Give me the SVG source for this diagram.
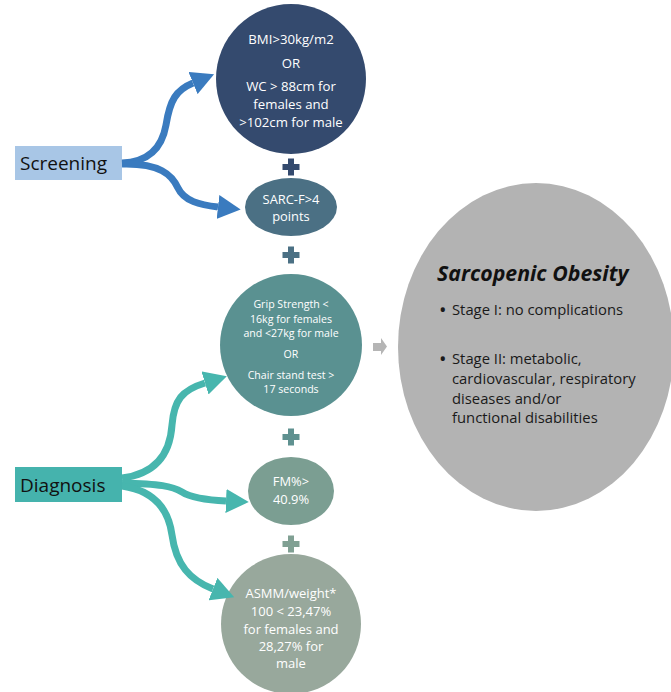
<svg xmlns="http://www.w3.org/2000/svg" width="671" height="692" viewBox="0 0 671 692">
<style>
text{font-family:"Open Sans","Noto Sans","Liberation Sans",sans-serif;}
.w{fill:#ffffff;text-anchor:middle;}
.lbl{fill:#111111;font-size:19px;}
.body{fill:#1a1a1a;font-size:14.8px;}
.bul{fill:#1a1a1a;font-size:20px;}
.blue{fill:none;stroke:#3a7bbf;stroke-width:7;}
.teal{fill:none;stroke:#47b6ae;stroke-width:7;}
</style>
<defs>
<marker id="hb" markerUnits="userSpaceOnUse" markerWidth="24" markerHeight="24" refX="0" refY="10" orient="auto" viewBox="0 0 20 20"><path d="M0,0 L19,10 L0,20 Z" fill="#3a7bbf"/></marker>
<marker id="ht" markerUnits="userSpaceOnUse" markerWidth="24" markerHeight="24" refX="0" refY="10" orient="auto" viewBox="0 0 20 20"><path d="M0,0 L19,10 L0,20 Z" fill="#47b6ae"/></marker>
<path id="plus" d="M-3,-8.5 h6 v5.5 h5.5 v6 h-5.5 v5.5 h-6 v-5.5 h-5.5 v-6 h5.5 z"/>
</defs>
<rect width="671" height="692" fill="#ffffff"/>

<g id="obesity">
<ellipse cx="536" cy="347" rx="138" ry="164" fill="#b3b3b3"/>
<text x="437" y="281" style="font-size:21.3px;font-weight:bold;font-style:italic;fill:#111">Sarcopenic Obesity</text>
<text class="bul" x="439" y="317">•</text><text class="body" x="452" y="315">Stage I: no complications</text>
<text class="bul" x="439" y="366">•</text><text class="body" x="452" y="364">Stage II: metabolic,</text>
<text class="body" x="452" y="384">cardiovascular, respiratory</text>
<text class="body" x="452" y="404">diseases and/or</text>
<text class="body" x="452" y="423">functional disabilities</text>
</g>

<g id="screening">
<rect x="15" y="146" width="107" height="34" fill="#a8c6e6"/>
<text class="lbl" x="20" y="170">Screening</text>
</g>

<g id="diagnosis">
<rect x="15" y="467" width="107" height="35" fill="#45b3ad"/>
<text class="lbl" x="20" y="492">Diagnosis</text>
</g>

<g id="bmi">
<circle cx="291" cy="79" r="75" fill="#344a6e"/>
<text class="w" style="font-size:13.2px" x="291" y="44">BMI&gt;30kg/m2</text>
<text class="w" style="font-size:13.2px" x="291" y="68">OR</text>
<text class="w" style="font-size:13.2px" x="291" y="91">WC &gt; 88cm for</text>
<text class="w" style="font-size:13.2px" x="291" y="109">females and</text>
<text class="w" style="font-size:13.2px" x="291" y="127">&gt;102cm for male</text>
</g>

<g id="sarcf">
<ellipse cx="291" cy="207" rx="46" ry="29" fill="#4b7084"/>
<text class="w" style="font-size:12.9px" x="291" y="204">SARC-F&gt;4</text>
<text class="w" style="font-size:12.9px" x="291" y="221">points</text>
</g>

<g id="grip">
<circle cx="291" cy="345" r="71" fill="#5a9191"/>
<text class="w" style="font-size:10.6px" x="291" y="308">Grip Strength &lt;</text>
<text class="w" style="font-size:10.6px" x="291" y="323">16kg for females</text>
<text class="w" style="font-size:10.6px" x="291" y="337">and &lt;27kg for male</text>
<text class="w" style="font-size:10.6px" x="291" y="358">OR</text>
<text class="w" style="font-size:10.6px" x="291" y="379">Chair stand test &gt;</text>
<text class="w" style="font-size:10.6px" x="291" y="393">17 seconds</text>
</g>

<g id="fm">
<ellipse cx="291" cy="491" rx="43" ry="34" fill="#7b9e92"/>
<text class="w" style="font-size:12.9px" x="291" y="486">FM%&gt;</text>
<text class="w" style="font-size:12.9px" x="291" y="504">40.9%</text>
</g>

<g id="asmm">
<circle cx="291" cy="624" r="70" fill="#98a89c"/>
<text class="w" style="font-size:13px" x="291" y="598">ASMM/weight*</text>
<text class="w" style="font-size:13px" x="291" y="616">100 &lt; 23,47%</text>
<text class="w" style="font-size:13px" x="291" y="634">for females and</text>
<text class="w" style="font-size:13px" x="291" y="651">28,27% for</text>
<text class="w" style="font-size:13px" x="291" y="668">male</text>
</g>

<g id="connectors">
<use href="#plus" x="291" y="167" fill="#344a6e"/>
<use href="#plus" x="291" y="255" fill="#4b7084"/>
<use href="#plus" x="291" y="437" fill="#5f9190"/>
<use href="#plus" x="291" y="544" fill="#80a093"/>
<polygon points="373,343 381,343 381,338 387,346.5 381,355 381,351 373,351" fill="#b5b5b5"/>
<path class="blue" d="M122,163 C148,162 162,148 166,125 C170,100 176,90 193,83" marker-end="url(#hb)"/>
<path class="blue" d="M122,164 C160,163 172,175 178,188 C184,201 200,205 218,207" marker-end="url(#hb)"/>
<path class="teal" d="M122,478 C155,474 170,455 172,425 C174,400 182,390 205,383" marker-end="url(#ht)"/>
<path class="teal" d="M122,483 C160,484 172,486 182,492 C190,497 205,500 226,501" marker-end="url(#ht)"/>
<path class="teal" d="M122,486 C150,490 168,505 172,535 C176,565 190,580 213,589" marker-end="url(#ht)"/>
</g>
</svg>
